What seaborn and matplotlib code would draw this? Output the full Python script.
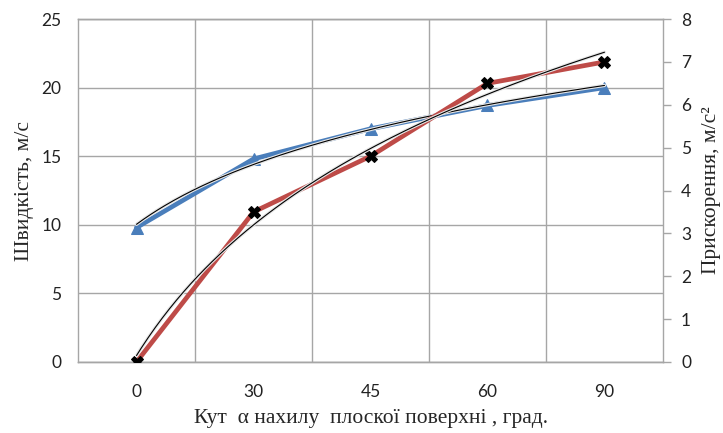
import numpy as np
import seaborn as sns
import matplotlib.pyplot as plt
import matplotlib.patheffects as pe
from matplotlib.ticker import FixedLocator

# angle categories and measured values
angles = ['0', '30', '45', '60', '90']
speed = [9.8, 14.8, 17.0, 18.7, 20.0]      # m/s, left axis
accel = [0.0, 3.5, 4.8, 6.5, 7.0]          # m/s^2, right axis

sns.set_style("white")
plt.rcParams['font.family'] = ['Lato', 'DejaVu Sans']

fig = plt.figure(figsize=(7.23, 4.33), dpi=100)
ax = fig.add_axes([0.1079, 0.164, 0.8091, 0.792])
ax2 = ax.twinx()

pos = np.arange(len(angles))
blue = '#4A7EBB'
red = '#BE4B48'
grid_c = '#A6A6A6'

# data lines
sns.lineplot(x=pos, y=speed, ax=ax, color=blue, lw=3.4, marker='^',
             markersize=9, markeredgecolor=blue, zorder=3)
sns.lineplot(x=pos, y=accel, ax=ax2, color=red, lw=3.4, marker='X',
             markersize=9, markerfacecolor='black', markeredgecolor='black', zorder=3)

# Excel-style logarithmic trend lines (x = 1..5)
xi = pos + 1
xs = np.linspace(1, 5, 200)
halo = [pe.Stroke(linewidth=2.4, foreground='#E6E6E6'), pe.Normal()]
kb = np.polyfit(np.log(xi), speed, 1)
ax.plot(xs - 1, np.polyval(kb, np.log(xs)), color='black', lw=0.8,
        path_effects=halo, zorder=4)
kr = np.polyfit(np.log(xi), accel, 1)
ax2.plot(xs - 1, np.polyval(kr, np.log(xs)), color='black', lw=0.8,
         path_effects=halo, zorder=4)

ax.set_xlim(-0.5, 4.5)
ax.set_ylim(0, 25)
ax2.set_ylim(0, 8)
ax.set_yticks(range(0, 26, 5))
ax2.set_yticks(range(0, 9))
ax.set_xticks(pos)
ax.set_xticklabels(angles)
ax.xaxis.set_minor_locator(FixedLocator([0.5, 1.5, 2.5, 3.5]))

ax.grid(True, axis='y', which='major', color=grid_c, lw=1)
ax.grid(True, axis='x', which='minor', color=grid_c, lw=1)
ax.grid(False, axis='x', which='major')
ax.set_axisbelow(True)

for a in (ax, ax2):
    for s in a.spines.values():
        s.set_color(grid_c)
        s.set_linewidth(1)
    a.spines['left'].set_visible(a is ax)
    a.spines['right'].set_visible(a is ax2)
    a.spines['top'].set_visible(True)

ax.tick_params(axis='y', length=0, pad=12, labelsize=12.5, labelcolor='#222222')
ax.tick_params(axis='x', which='both', length=0, pad=16, labelsize=12.5, labelcolor='#222222')
ax2.tick_params(axis='y', length=6, width=1, color=grid_c, pad=7,
                labelsize=12.5, labelcolor='#222222')

serif = ['Liberation Serif', 'DejaVu Serif']
ax.set_xlabel('Кут  α нахилу  плоскої поверхні , град.', family=serif,
              fontsize=15.5, labelpad=6)
ax.set_ylabel('Швидкість, м/с', family=serif, fontsize=15.5, labelpad=5)
ax2.set_ylabel('Прискорення, м/с²', family=serif, fontsize=15.5, labelpad=8)

fig.savefig('out.png', dpi=100)
